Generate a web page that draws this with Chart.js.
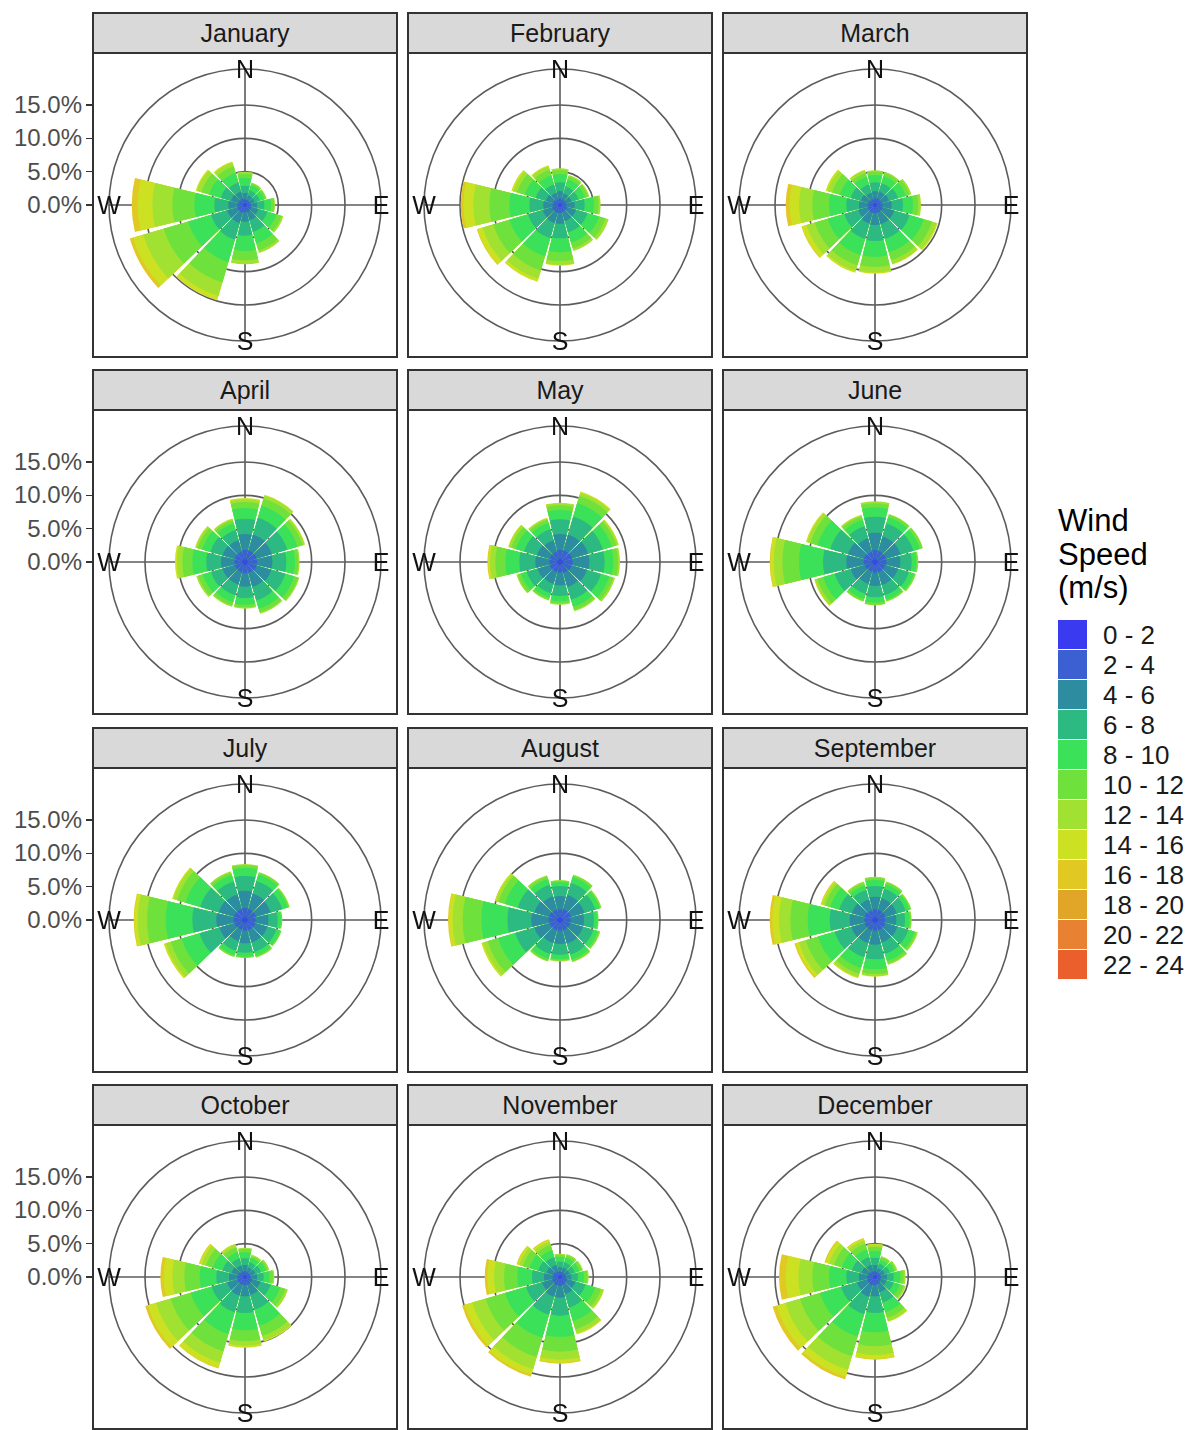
<!DOCTYPE html>
<html>
<head>
<meta charset="utf-8">
<title>Monthly wind roses</title>
<script src="https://cdn.jsdelivr.net/npm/chart.js@4.4.1/dist/chart.umd.min.js"></script>
<style>
  html, body { margin: 0; padding: 0; background: #fff; }
  body { width: 1192px; height: 1430px; position: relative; overflow: hidden;
         font-family: "Liberation Sans", Arial, sans-serif; }
  .strip { position: absolute; box-sizing: border-box; width: 306px; height: 42px;
           background: #d9d9d9; border: 2px solid #333; color: #1a1a1a;
           font-size: 25px; text-align: center; line-height: 38px; }
  .panel { position: absolute; box-sizing: border-box; width: 306px; height: 306px;
           border: 2px solid #333; pointer-events: none; }
  canvas.rose { position: absolute; }
  .ylab { position: absolute; left: 0; width: 82px; text-align: right; font-size: 24px;
          color: #4d4d4d; line-height: 24px; }
  .ytick { position: absolute; left: 86px; width: 6px; height: 1.6px; background: #333; }
  .legend-title { position: absolute; left: 1058px; top: 504px; font-size: 31px;
                  line-height: 33.5px; color: #000; }
  .key { position: absolute; left: 1058px; width: 29px; height: 29px; }
  .key-label { position: absolute; left: 1103px; font-size: 26px; line-height: 30px; color: #1a1a1a; }
</style>
</head>
<body>
<script>
// ---- data -----------------------------------------------------------------
const months = ['January', 'February', 'March', 'April', 'May', 'June',
                'July', 'August', 'September', 'October', 'November', 'December'];

// 12 direction sectors (30 degrees each), clockwise from north
const directions = ['N', 'NNE', 'ENE', 'E', 'ESE', 'SSE', 'S', 'SSW', 'WSW', 'W', 'WNW', 'NNW'];

const speedBands = ['0 - 2', '2 - 4', '4 - 6', '6 - 8', '8 - 10', '10 - 12',
                    '12 - 14', '14 - 16', '16 - 18', '18 - 20', '20 - 22', '22 - 24'];

const bandColors = ['#3a3af0', '#3c5fd2', '#2e8ca0', '#2cb982', '#3ce15a', '#6ee13c',
                    '#a0e132', '#cde123', '#e1c823', '#e1a528', '#e88232', '#eb5f2d'];

const radialTicks = [0, 5, 10, 15];   // % of observations

// Frequency (%) per direction (rows, same order as `directions`)
// and per speed band (columns 0-2, 2-4, ... 16-18; higher bands are empty)
const jan = [
  [0.3, 0.6, 0.9, 1.1, 1.2, 0.6, 0.3, 0, 0],
  [0.3, 0.5, 0.7, 0.8, 0.8, 0.3, 0.1, 0, 0],
  [0.3, 0.5, 0.7, 0.8, 0.7, 0.3, 0.1, 0, 0],
  [0.3, 0.6, 0.9, 1.1, 1.0, 0.5, 0.1, 0, 0],
  [0.3, 0.7, 1.1, 1.4, 1.4, 0.8, 0.3, 0, 0],
  [0.3, 0.8, 1.3, 1.8, 1.8, 1.1, 0.4, 0, 0],
  [0.3, 0.8, 1.4, 2.1, 2.3, 1.4, 0.6, 0, 0],
  [0.3, 0.9, 1.6, 2.6, 3.5, 3.2, 2.1, 0.7, 0],
  [0.3, 0.9, 1.6, 2.5, 3.6, 3.8, 3.2, 1.6, 0.5],
  [0.3, 0.8, 1.4, 2.1, 3.0, 3.3, 3.0, 2.2, 0.9],
  [0.3, 0.7, 1.2, 1.6, 1.8, 1.2, 0.7, 0.2, 0],
  [0.3, 0.7, 1.1, 1.4, 1.5, 1.0, 0.6, 0.2, 0]
];
const feb = [
  [0.3, 0.7, 1.1, 1.3, 1.2, 0.6, 0.3, 0, 0],
  [0.3, 0.6, 0.9, 1.1, 1.1, 0.5, 0.2, 0, 0],
  [0.3, 0.6, 0.9, 1.1, 1.0, 0.5, 0.2, 0, 0],
  [0.3, 0.7, 1.2, 1.5, 1.4, 0.7, 0.3, 0, 0],
  [0.3, 0.8, 1.4, 1.8, 1.8, 1.0, 0.5, 0, 0],
  [0.3, 0.8, 1.4, 1.8, 1.6, 0.9, 0.4, 0, 0],
  [0.3, 0.9, 1.6, 2.2, 2.1, 1.3, 0.6, 0.1, 0],
  [0.3, 0.9, 1.6, 2.4, 2.8, 2.2, 1.3, 0.5, 0],
  [0.3, 0.9, 1.5, 2.3, 2.9, 2.5, 1.7, 0.8, 0.1],
  [0.3, 0.8, 1.4, 2.1, 3.0, 3.0, 2.4, 1.5, 0.4],
  [0.3, 0.7, 1.2, 1.6, 1.7, 1.2, 0.6, 0.3, 0],
  [0.3, 0.6, 1.0, 1.3, 1.4, 0.9, 0.5, 0.2, 0]
];
const mar = [
  [0.3, 0.7, 1.1, 1.3, 1.1, 0.5, 0.2, 0, 0],
  [0.3, 0.7, 1.1, 1.3, 1.1, 0.5, 0.2, 0, 0],
  [0.3, 0.7, 1.2, 1.4, 1.2, 0.6, 0.3, 0, 0],
  [0.3, 0.8, 1.4, 1.7, 1.5, 0.8, 0.4, 0, 0],
  [0.3, 0.9, 1.8, 2.4, 2.2, 1.3, 0.7, 0.2, 0],
  [0.3, 0.9, 1.8, 2.3, 2.1, 1.2, 0.6, 0.1, 0],
  [0.3, 0.9, 1.8, 2.4, 2.4, 1.5, 0.8, 0.2, 0],
  [0.3, 0.9, 1.7, 2.4, 2.5, 1.6, 0.9, 0.3, 0],
  [0.3, 0.8, 1.5, 2.2, 2.6, 2.0, 1.3, 0.7, 0.1],
  [0.3, 0.8, 1.3, 1.9, 2.6, 2.5, 2.0, 1.4, 0.6],
  [0.3, 0.7, 1.2, 1.6, 1.7, 1.2, 0.7, 0.3, 0],
  [0.3, 0.6, 1.0, 1.3, 1.2, 0.6, 0.4, 0.1, 0]
];
const apr = [
  [0.4, 1.4, 2.4, 2.3, 1.6, 0.9, 0.4, 0.2, 0],
  [0.4, 1.4, 2.5, 2.6, 1.9, 1.1, 0.5, 0.1, 0],
  [0.4, 1.4, 2.4, 2.4, 1.6, 0.8, 0.3, 0.1, 0],
  [0.4, 1.4, 2.3, 2.1, 1.3, 0.5, 0.2, 0, 0],
  [0.4, 1.4, 2.3, 2.2, 1.4, 0.6, 0.2, 0, 0],
  [0.4, 1.3, 2.2, 2.1, 1.3, 0.6, 0.2, 0, 0],
  [0.4, 1.3, 2.0, 1.7, 1.0, 0.4, 0.2, 0, 0],
  [0.4, 1.2, 1.9, 1.7, 1.1, 0.5, 0.2, 0, 0],
  [0.4, 1.2, 1.9, 1.8, 1.3, 0.7, 0.3, 0, 0],
  [0.4, 1.2, 2.0, 2.2, 2.1, 1.5, 0.8, 0.3, 0],
  [0.4, 1.2, 1.9, 1.9, 1.3, 0.7, 0.3, 0.1, 0],
  [0.4, 1.2, 1.8, 1.6, 1.0, 0.5, 0.2, 0.1, 0]
];
const may = [
  [0.4, 1.4, 2.4, 2.2, 1.4, 0.7, 0.3, 0.1, 0],
  [0.4, 1.4, 2.5, 2.8, 2.1, 1.1, 0.5, 0.2, 0],
  [0.4, 1.5, 2.5, 2.3, 1.4, 0.7, 0.3, 0.1, 0],
  [0.4, 1.5, 2.5, 2.3, 1.3, 0.7, 0.3, 0, 0],
  [0.4, 1.4, 2.4, 2.2, 1.3, 0.6, 0.3, 0, 0],
  [0.4, 1.3, 2.2, 2.0, 1.1, 0.5, 0.2, 0, 0],
  [0.4, 1.2, 1.9, 1.6, 0.8, 0.3, 0.2, 0, 0],
  [0.4, 1.2, 1.8, 1.5, 0.7, 0.3, 0.1, 0, 0],
  [0.4, 1.2, 1.9, 1.7, 0.9, 0.5, 0.2, 0, 0],
  [0.4, 1.2, 2.1, 2.4, 2.1, 1.5, 0.8, 0.3, 0.1],
  [0.4, 1.2, 2.0, 2.0, 1.3, 0.7, 0.4, 0.1, 0],
  [0.4, 1.2, 1.8, 1.7, 1.0, 0.5, 0.2, 0.1, 0]
];
const jun = [
  [0.4, 1.4, 2.6, 2.4, 1.4, 0.6, 0.3, 0, 0],
  [0.4, 1.3, 2.3, 2.0, 1.0, 0.4, 0.1, 0, 0],
  [0.4, 1.3, 2.3, 2.0, 1.0, 0.4, 0.1, 0, 0],
  [0.4, 1.3, 2.1, 1.7, 0.7, 0.2, 0.1, 0, 0],
  [0.4, 1.2, 2.0, 1.7, 0.8, 0.2, 0.1, 0, 0],
  [0.4, 1.2, 2.0, 1.6, 0.7, 0.2, 0.1, 0, 0],
  [0.4, 1.2, 2.0, 1.7, 0.8, 0.3, 0.1, 0, 0],
  [0.4, 1.1, 1.9, 1.6, 0.8, 0.3, 0.1, 0, 0],
  [0.4, 1.2, 2.2, 2.5, 1.8, 0.9, 0.4, 0.1, 0],
  [0.4, 1.3, 2.6, 3.5, 3.6, 2.5, 1.3, 0.5, 0.1],
  [0.4, 1.3, 2.5, 2.8, 2.0, 1.1, 0.5, 0.2, 0],
  [0.4, 1.2, 2.1, 1.9, 1.0, 0.5, 0.2, 0.1, 0]
];
const jul = [
  [0.4, 1.4, 2.6, 2.2, 1.2, 0.4, 0.2, 0, 0],
  [0.4, 1.3, 2.4, 2.0, 1.0, 0.3, 0.1, 0, 0],
  [0.4, 1.3, 2.3, 1.8, 0.9, 0.2, 0.1, 0, 0],
  [0.4, 1.2, 1.9, 1.4, 0.5, 0.2, 0, 0, 0],
  [0.4, 1.2, 1.9, 1.4, 0.6, 0.2, 0, 0, 0],
  [0.4, 1.2, 1.9, 1.5, 0.6, 0.2, 0.1, 0, 0],
  [0.4, 1.2, 1.9, 1.4, 0.6, 0.2, 0, 0, 0],
  [0.4, 1.1, 1.8, 1.5, 0.7, 0.2, 0.1, 0, 0],
  [0.4, 1.2, 2.4, 3.1, 2.8, 1.7, 0.8, 0.3, 0],
  [0.4, 1.3, 2.6, 3.6, 4.0, 2.8, 1.4, 0.5, 0.1],
  [0.4, 1.3, 2.4, 2.9, 2.3, 1.3, 0.6, 0.2, 0],
  [0.4, 1.3, 2.3, 2.0, 1.0, 0.4, 0.2, 0, 0]
];
const aug = [
  [0.4, 1.2, 2.0, 1.5, 0.6, 0.2, 0.1, 0, 0],
  [0.4, 1.3, 2.2, 1.9, 0.9, 0.3, 0.1, 0, 0],
  [0.4, 1.3, 2.1, 1.7, 0.7, 0.2, 0.1, 0, 0],
  [0.4, 1.2, 2.0, 1.5, 0.5, 0.2, 0, 0, 0],
  [0.4, 1.2, 2.0, 1.6, 0.7, 0.3, 0.1, 0, 0],
  [0.4, 1.2, 2.1, 1.7, 0.8, 0.3, 0.1, 0, 0],
  [0.4, 1.2, 2.0, 1.6, 0.7, 0.2, 0.1, 0, 0],
  [0.4, 1.2, 2.0, 1.7, 0.8, 0.3, 0.1, 0, 0],
  [0.4, 1.2, 2.4, 3.0, 2.7, 1.6, 0.7, 0.3, 0],
  [0.4, 1.3, 2.6, 3.6, 3.9, 2.8, 1.5, 0.6, 0.1],
  [0.4, 1.3, 2.3, 2.6, 2.0, 1.0, 0.4, 0.2, 0],
  [0.4, 1.2, 2.1, 1.8, 0.9, 0.4, 0.2, 0, 0]
];
const sep = [
  [0.4, 1.2, 1.9, 1.6, 0.9, 0.3, 0.2, 0, 0],
  [0.4, 1.2, 1.8, 1.5, 0.7, 0.3, 0.1, 0, 0],
  [0.4, 1.2, 1.8, 1.4, 0.6, 0.2, 0.1, 0, 0],
  [0.4, 1.1, 1.7, 1.3, 0.7, 0.2, 0.1, 0, 0],
  [0.4, 1.2, 1.9, 1.7, 1.0, 0.3, 0.2, 0, 0],
  [0.4, 1.2, 1.9, 1.8, 1.1, 0.4, 0.2, 0, 0],
  [0.4, 1.2, 2.1, 2.2, 1.5, 0.7, 0.3, 0.1, 0],
  [0.4, 1.2, 2.0, 2.2, 1.7, 0.9, 0.5, 0.2, 0],
  [0.4, 1.2, 2.1, 2.6, 2.6, 1.9, 1.1, 0.5, 0.2],
  [0.4, 1.2, 2.2, 3.0, 3.3, 2.6, 1.7, 1.0, 0.4],
  [0.4, 1.2, 2.0, 2.0, 1.4, 0.8, 0.4, 0.2, 0.1],
  [0.4, 1.1, 1.7, 1.5, 0.7, 0.4, 0.2, 0, 0]
];
const oct = [
  [0.3, 0.6, 0.9, 1.0, 0.9, 0.5, 0.2, 0, 0],
  [0.3, 0.5, 0.7, 0.8, 0.7, 0.3, 0.2, 0, 0],
  [0.3, 0.5, 0.8, 0.9, 0.8, 0.3, 0.2, 0, 0],
  [0.3, 0.6, 0.9, 1.0, 0.9, 0.5, 0.2, 0, 0],
  [0.3, 0.8, 1.3, 1.6, 1.5, 0.8, 0.4, 0, 0],
  [0.3, 0.9, 1.6, 2.3, 2.5, 1.6, 0.7, 0.2, 0],
  [0.3, 0.9, 1.7, 2.5, 2.6, 1.6, 0.7, 0.3, 0],
  [0.3, 0.9, 1.7, 2.6, 3.4, 2.7, 1.8, 0.8, 0.1],
  [0.3, 0.9, 1.6, 2.4, 3.3, 3.1, 2.3, 1.3, 0.4],
  [0.3, 0.8, 1.3, 1.9, 2.5, 2.3, 1.8, 1.3, 0.5],
  [0.3, 0.7, 1.1, 1.4, 1.5, 1.1, 0.7, 0.3, 0.1],
  [0.3, 0.6, 0.9, 1.1, 1.0, 0.7, 0.4, 0.2, 0]
];
const nov = [
  [0.3, 0.5, 0.7, 0.8, 0.7, 0.3, 0.2, 0, 0],
  [0.3, 0.5, 0.7, 0.8, 0.7, 0.4, 0.2, 0, 0],
  [0.3, 0.5, 0.7, 0.8, 0.7, 0.4, 0.2, 0, 0],
  [0.3, 0.6, 0.8, 1.0, 0.9, 0.5, 0.2, 0, 0],
  [0.3, 0.8, 1.3, 1.6, 1.5, 0.9, 0.4, 0.1, 0],
  [0.3, 0.9, 1.5, 2.1, 2.1, 1.3, 0.6, 0.2, 0],
  [0.3, 1.0, 1.8, 2.7, 3.2, 2.2, 1.2, 0.5, 0.1],
  [0.3, 1.0, 1.8, 2.8, 3.6, 3.0, 1.9, 0.9, 0.3],
  [0.3, 0.9, 1.6, 2.5, 3.3, 3.0, 2.1, 1.2, 0.4],
  [0.3, 0.8, 1.3, 1.8, 2.2, 2.0, 1.5, 1.0, 0.4],
  [0.3, 0.7, 1.1, 1.3, 1.4, 1.0, 0.6, 0.3, 0.1],
  [0.3, 0.6, 1.0, 1.2, 1.1, 0.8, 0.5, 0.3, 0.1]
];
const dec = [
  [0.3, 0.6, 0.9, 1.1, 1.0, 0.6, 0.3, 0.2, 0],
  [0.3, 0.5, 0.6, 0.7, 0.6, 0.4, 0.2, 0, 0],
  [0.3, 0.5, 0.7, 0.8, 0.7, 0.3, 0.2, 0, 0],
  [0.3, 0.6, 0.9, 1.0, 1.0, 0.5, 0.3, 0, 0],
  [0.3, 0.6, 0.9, 1.1, 1.0, 0.6, 0.3, 0, 0],
  [0.3, 0.8, 1.3, 1.6, 1.5, 0.9, 0.5, 0.1, 0],
  [0.3, 0.9, 1.7, 2.5, 2.9, 2.1, 1.3, 0.6, 0.1],
  [0.3, 1.0, 1.8, 2.7, 3.5, 3.1, 2.1, 1.1, 0.4],
  [0.3, 0.9, 1.6, 2.5, 3.3, 3.1, 2.3, 1.4, 0.6],
  [0.3, 0.8, 1.3, 1.9, 2.6, 2.5, 2.1, 1.9, 1.0],
  [0.3, 0.7, 1.1, 1.5, 1.6, 1.2, 0.8, 0.5, 0.2],
  [0.3, 0.6, 1.0, 1.2, 1.2, 0.9, 0.5, 0.3, 0.1]
];
const monthlyFrequencies = [jan, feb, mar, apr, may, jun, jul, aug, sep, oct, nov, dec];

// ---- layout & styling ------------------------------------------------------
const COL_LEFT = [92, 407, 722];
const ROW_TOP = [12, 369, 727, 1084];
const STRIP_H = 40;
const PANEL = 306;
const R_MAX = 20.4;          // radial extent of the outer circle (%)
const SECTOR = 360 / directions.length;
const GAP = 2.5;             // angular gap between neighbouring sectors (deg)
const BAR = SECTOR - GAP;
const GRID = '#5c5c5c';
const GRID_W = 1.6;
const FONT = '"Liberation Sans", Arial, sans-serif';

// Sector labels interleaved with empty gap slots
const sectorLabels = directions.flatMap(d => [d, '']);

function buildDatasets(rows) {
  return speedBands.map((band, b) => {
    const data = [];
    rows.forEach(row => {
      let cum = 0;
      for (let k = 0; k <= b; k++) cum += row[k] || 0;
      // stacked outer edge of this band; empty band -> no arc
      data.push((row[b] || 0) > 0 ? +cum.toFixed(3) : 0, 0);
    });
    return {
      label: band,
      data,
      backgroundColor: bandColors[b],
      borderWidth: 0,
      angle: ctx => (ctx.dataIndex % 2 === 0 ? BAR : GAP)
    };
  });
}

// Compass cross (under the bars) and N/E/S/W labels (on top)
const compassPlugin = {
  id: 'compass',
  beforeDatasetsDraw(chart) {
    const s = chart.scales.r;
    const R = s.getDistanceFromCenterForValue(s.max);
    const ctx = chart.ctx;
    ctx.save();
    ctx.strokeStyle = GRID;
    ctx.lineWidth = GRID_W;
    ctx.beginPath();
    ctx.moveTo(s.xCenter, s.yCenter - R); ctx.lineTo(s.xCenter, s.yCenter + R);
    ctx.moveTo(s.xCenter - R, s.yCenter); ctx.lineTo(s.xCenter + R, s.yCenter);
    ctx.stroke();
    ctx.restore();
  },
  afterDraw(chart) {
    const s = chart.scales.r;
    const R = s.getDistanceFromCenterForValue(s.max);
    const ctx = chart.ctx;
    ctx.save();
    ctx.fillStyle = '#111';
    ctx.font = '25px ' + FONT;
    ctx.textAlign = 'center';
    ctx.textBaseline = 'middle';
    const dy = 2;
    ctx.fillText('N', s.xCenter, s.yCenter - R + dy);
    ctx.fillText('S', s.xCenter, s.yCenter + R + dy);
    ctx.fillText('E', s.xCenter + R, s.yCenter + dy);
    ctx.fillText('W', s.xCenter - R, s.yCenter + dy);
    ctx.restore();
  }
};

function el(tag, cls, style, text) {
  const e = document.createElement(tag);
  if (cls) e.className = cls;
  Object.assign(e.style, style || {});
  if (text !== undefined) e.textContent = text;
  document.body.appendChild(e);
  return e;
}

months.forEach((name, i) => {
  const col = i % 3, row = Math.floor(i / 3);
  const left = COL_LEFT[col], top = ROW_TOP[row];
  el('div', 'strip', { left: left + 'px', top: top + 'px' }, name);

  const canvas = el('canvas', 'rose', { left: left + 'px', top: (top + STRIP_H) + 'px' });
  canvas.width = PANEL; canvas.height = PANEL;

  const chart = new Chart(canvas, {
    type: 'polarArea',
    data: { labels: sectorLabels, datasets: buildDatasets(monthlyFrequencies[i]) },
    options: {
      responsive: false,
      animation: false,
      events: [],
      layout: { padding: 17 },
      plugins: { legend: { display: false }, tooltip: { enabled: false } },
      scales: {
        r: {
          min: 0,
          max: R_MAX,
          startAngle: -BAR / 2,
          afterBuildTicks: s => { s.ticks = radialTicks.concat([R_MAX]).map(v => ({ value: v })); },
          ticks: { display: false },
          grid: { color: GRID, lineWidth: GRID_W, circular: true },
          angleLines: { display: false },
          pointLabels: { display: false }
        }
      }
    },
    plugins: [compassPlugin]
  });

  el('div', 'panel', { left: left + 'px', top: (top + STRIP_H) + 'px' });

  // radial axis labels along the left edge of each row
  if (col === 0) {
    const s = chart.scales.r;
    radialTicks.forEach(v => {
      const y = top + STRIP_H + s.yCenter - s.getDistanceFromCenterForValue(v);
      el('div', 'ylab', { top: (y - 12) + 'px' }, v.toFixed(1) + '%');
      el('div', 'ytick', { top: (y - 0.8) + 'px' });
    });
  }
});

// ---- legend ----------------------------------------------------------------
el('div', 'legend-title', {}, '').innerHTML = 'Wind<br>Speed<br>(m/s)';
speedBands.forEach((band, b) => {
  const y = 620 + b * 30;
  el('div', 'key', { top: y + 'px', background: bandColors[b] });
  el('div', 'key-label', { top: y + 'px' }, band);
});
</script>
</body>
</html>
